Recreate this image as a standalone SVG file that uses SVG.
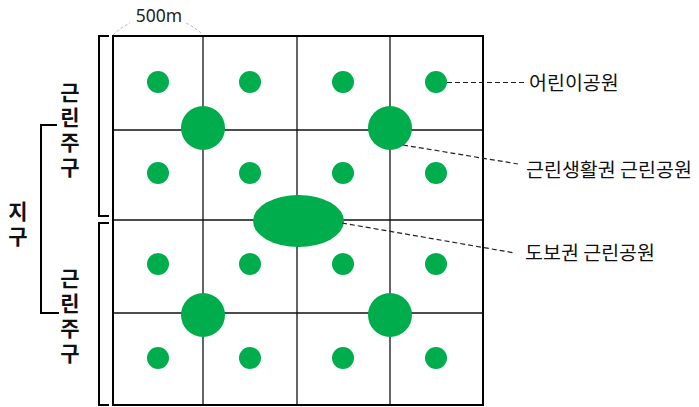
<svg xmlns="http://www.w3.org/2000/svg" width="699" height="407" viewBox="0 0 699 407">
<style>
.park{fill:#00ad4c}
.grid{stroke:#111;stroke-width:1.3;fill:none}
.border{stroke:#000;stroke-width:2;fill:none}
.br{stroke:#000;stroke-width:2;fill:none}
.lead{stroke:#222;stroke-width:1.2;stroke-dasharray:5 3;fill:none}
.dim{stroke:#bbb;stroke-width:1;stroke-dasharray:3 2;fill:none}
.lbl{font-family:"Noto Sans CJK KR","Noto Sans",sans-serif;font-size:19.5px;fill:#111}
.vt{font-family:"Noto Sans CJK KR",sans-serif;font-size:21px;font-weight:bold;fill:#111;text-anchor:middle;writing-mode:vertical-rl;letter-spacing:4px}
</style>
<rect width="699" height="407" fill="#fff"/>
<g id="grid">
<line class="grid" x1="203" y1="36" x2="203" y2="405"/>
<line class="grid" x1="297" y1="36" x2="297" y2="405"/>
<line class="grid" x1="390" y1="36" x2="390" y2="405"/>
<line class="grid" x1="113" y1="130" x2="483" y2="130"/>
<line class="grid" x1="113" y1="220" x2="483" y2="220"/>
<line class="grid" x1="113" y1="313" x2="483" y2="313"/>
<rect class="border" x="113" y="36" width="370" height="369"/>
</g>
<g id="dim500">
<path class="dim" d="M113,35 Q120,28 130,23"/>
<path class="dim" d="M186,23 Q196,28 202,34"/>
<text x="159" y="22" text-anchor="middle" style="font-family:'Noto Sans',sans-serif;font-size:17.5px;fill:#222">500m</text>
</g>
<g id="small-parks">
<circle class="park" cx="158" cy="82" r="11"/><circle class="park" cx="250" cy="82" r="11"/><circle class="park" cx="343" cy="82" r="11"/><circle class="park" cx="436" cy="82" r="11"/>
<circle class="park" cx="158" cy="173" r="11"/><circle class="park" cx="250" cy="173" r="11"/><circle class="park" cx="343" cy="173" r="11"/><circle class="park" cx="436" cy="173" r="11"/>
<circle class="park" cx="158" cy="264" r="11"/><circle class="park" cx="250" cy="264" r="11"/><circle class="park" cx="343" cy="264" r="11"/><circle class="park" cx="436" cy="264" r="11"/>
<circle class="park" cx="158" cy="358" r="11"/><circle class="park" cx="250" cy="358" r="11"/><circle class="park" cx="343" cy="358" r="11"/><circle class="park" cx="436" cy="358" r="11"/>
</g>
<g id="neighborhood-parks">
<circle class="park" cx="203" cy="128" r="22"/>
<circle class="park" cx="390" cy="128" r="22"/>
<circle class="park" cx="203" cy="315" r="22"/>
<circle class="park" cx="390" cy="315" r="22"/>
</g>
<g id="walking-park">
<ellipse class="park" cx="298.5" cy="221" rx="45.5" ry="26"/>
</g>
<g id="connectors">
<line class="lead" x1="447" y1="82.5" x2="527" y2="82.5"/>
<line class="lead" x1="403" y1="145" x2="518" y2="164"/>
<line class="lead" x1="342" y1="223" x2="515" y2="253"/>
</g>
<g id="label-child"><text class="lbl" x="529" y="90">어린이공원</text></g>
<g id="label-living"><text class="lbl" x="526" y="177">근린생활권 근린공원</text></g>
<g id="label-walk"><text class="lbl" x="525" y="260">도보권 근린공원</text></g>
<g id="bracket-top">
<polyline class="br" points="109,36 99,36 99,216 109,216"/>
<text class="vt" x="70" y="131.5">근린주구</text>
</g>
<g id="bracket-bottom">
<polyline class="br" points="109,223 99,223 99,405 109,405"/>
<text class="vt" x="70" y="317.5">근린주구</text>
</g>
<g id="bracket-district">
<polyline class="br" points="57,125 41,125 41,313 59,313"/>
<text class="vt" x="18" y="226">지구</text>
</g>
</svg>
